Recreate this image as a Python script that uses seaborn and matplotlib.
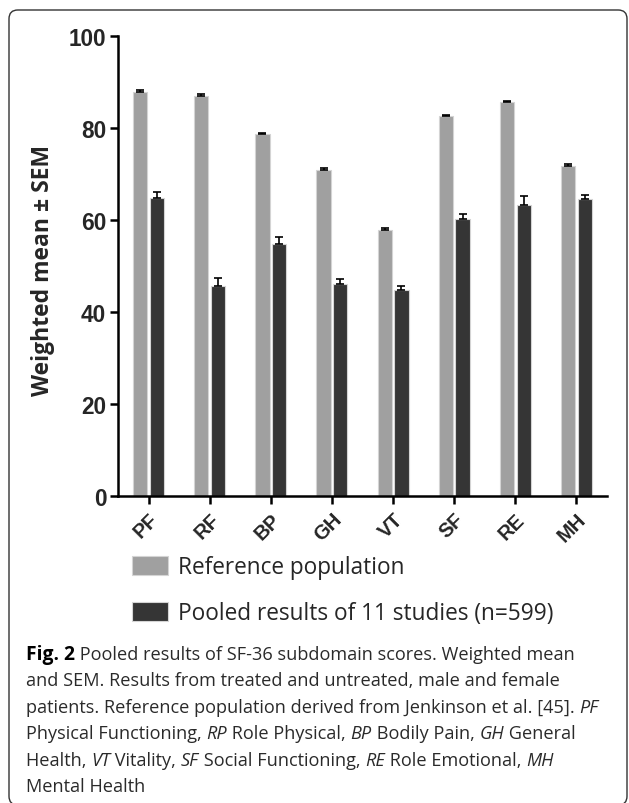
import matplotlib
matplotlib.use("Agg")
import matplotlib.pyplot as plt
import seaborn as sns
import pandas as pd
import numpy as np
from matplotlib.patches import FancyBboxPatch

# ---- data ----
domains = ["PF", "RF", "BP", "GH", "VT", "SF", "RE", "MH"]
groups = ["Reference population", "Pooled results of 11 studies (n=599)"]
ref_mean = [87.9, 87.0, 78.6, 70.9, 57.9, 82.6, 85.6, 71.8]
ref_sem = [0.3, 0.3, 0.3, 0.3, 0.3, 0.3, 0.3, 0.3]
pooled_mean = [64.8, 45.6, 54.8, 46.0, 44.7, 60.2, 63.3, 64.6]
pooled_sem = [1.2, 1.8, 1.4, 1.2, 1.0, 1.0, 1.9, 0.9]
yticks = [0, 20, 40, 60, 80, 100]

df = pd.DataFrame({
    "domain": domains * 2,
    "group": [groups[0]] * len(domains) + [groups[1]] * len(domains),
    "value": ref_mean + pooled_mean,
})
sems = [ref_sem, pooled_sem]

sns.set_style("white")
plt.rcParams["font.family"] = ["Liberation Sans", "DejaVu Sans"]

W, H = 629, 804
fig = plt.figure(figsize=(W / 100, H / 100), dpi=100)
ax = fig.add_axes([118 / W, 1 - 497 / H, 489 / W, 460 / H])

sns.barplot(data=df, x="domain", y="value", hue="group", hue_order=groups,
            palette=["#a0a0a0", "#353535"], width=0.55, gap=0.15,
            edgecolor="#d4d4d4", linewidth=0.8, errorbar=None, ax=ax,
            saturation=1)

leg = ax.get_legend()
handles = list(leg.legend_handles)
leg.remove()

for cont, s in zip(ax.containers, sems):
    xs = [p.get_x() + p.get_width() / 2 for p in cont.patches]
    hs = [p.get_height() for p in cont.patches]
    ax.errorbar(xs, hs, yerr=[np.zeros(len(s)), s], fmt="none", ecolor="black",
                elinewidth=1.2, capsize=2.6, capthick=1.2, zorder=5)

ax.set_xlim(-0.5, len(domains) - 0.5)
ax.set_ylim(0, 100)
ax.set_yticks(yticks)
ax.set_yticklabels([str(v) for v in yticks], fontsize=16.3, fontweight="bold")
ax.set_xticks(range(len(domains)))
ax.set_xticklabels(domains, fontsize=14.5, fontweight="bold", rotation=45,
                   ha="right", rotation_mode="anchor")
ax.set_xlabel("")
ax.set_ylabel("")
for sp in ["top", "right"]:
    ax.spines[sp].set_visible(False)
for sp in ["left", "bottom"]:
    ax.spines[sp].set_linewidth(1.8)
    ax.spines[sp].set_color("black")
ax.tick_params(axis="both", direction="out", length=5.5, width=1.8, color="black",
               left=True, bottom=True, pad=3)
ax.tick_params(axis="x", pad=4)

fig.canvas.draw()
renderer = fig.canvas.get_renderer()

def measure(txt, family, size, weight="normal"):
    t = fig.text(0, 0, txt, fontsize=size, family=family, fontweight=weight)
    bb = t.get_window_extent(renderer)
    t.remove()
    return bb.width, bb.height

def fit_size(txt, target_px, family, weight="normal", base=14.0):
    w, _ = measure(txt, family, base, weight)
    return base * target_px / w

FONT = ["Open Sans", "DejaVu Sans"]

ysz = fit_size("Weighted mean ± SEM", 252, FONT, "bold")
fig.text(43 / W, 1 - 271 / H, "Weighted mean ± SEM", rotation=90, ha="center",
         va="center", fontsize=ysz, fontweight="bold", family=FONT)

# legend
lsz = fit_size(groups[1], 377, FONT)
fpx = lsz * 100 / 72
_, th = measure(groups[1], FONT, lsz)
row_h = max(th, 21)
lspacing = (46 - row_h) / fpx
fig.legend(handles, groups, loc="upper left",
           bbox_to_anchor=(132 / W, 1 - (568.5 - row_h / 2) / H),
           frameon=False, prop={"family": FONT, "size": lsz},
           handlelength=36 / fpx, handleheight=21 / fpx, handletextpad=10 / fpx,
           labelspacing=lspacing, borderpad=0, borderaxespad=0)

# caption
cap_lines = [
    [("Fig. 2", "bold"), (" Pooled results of SF-36 subdomain scores. Weighted mean", "normal")],
    [("and SEM. Results from treated and untreated, male and female", "normal")],
    [("patients. Reference population derived from Jenkinson et al. [45]. ", "normal"), ("PF", "italic")],
    [("Physical Functioning, ", "normal"), ("RP", "italic"), (" Role Physical, ", "normal"),
     ("BP", "italic"), (" Bodily Pain, ", "normal"), ("GH", "italic"), (" General", "normal")],
    [("Health, ", "normal"), ("VT", "italic"), (" Vitality, ", "normal"), ("SF", "italic"),
     (" Social Functioning, ", "normal"), ("RE", "italic"), (" Role Emotional, ", "normal"),
     ("MH", "italic")],
    [("Mental Health", "normal")],
]
csz = fit_size("and SEM. Results from treated and untreated, male and female", 536, FONT)
y0 = 653
for i, line in enumerate(cap_lines):
    x = 26
    ypix = y0 + i * 26.5
    for txt, style in line:
        kw = dict(fontsize=csz, family=FONT, va="center_baseline", ha="left")
        if style == "bold":
            kw.update(fontweight="bold", color="black", fontsize=csz * 1.06)
        elif style == "italic":
            kw.update(style="italic", color="#2a2a2a")
        else:
            kw.update(color="#2a2a2a")
        t = fig.text(x / W, 1 - ypix / H, txt, **kw)
        bb = t.get_window_extent(renderer)
        x += bb.width

# frame
frame = FancyBboxPatch((9 / W, -2 / H), (627 - 9) / W, (H - 11 + 2) / H,
                       boxstyle="round,pad=0,rounding_size=0.014", transform=fig.transFigure,
                       fill=False, edgecolor="#333333", linewidth=1.0, mutation_aspect=W / H)
fig.patches.append(frame)

fig.savefig("out.png", dpi=100)
